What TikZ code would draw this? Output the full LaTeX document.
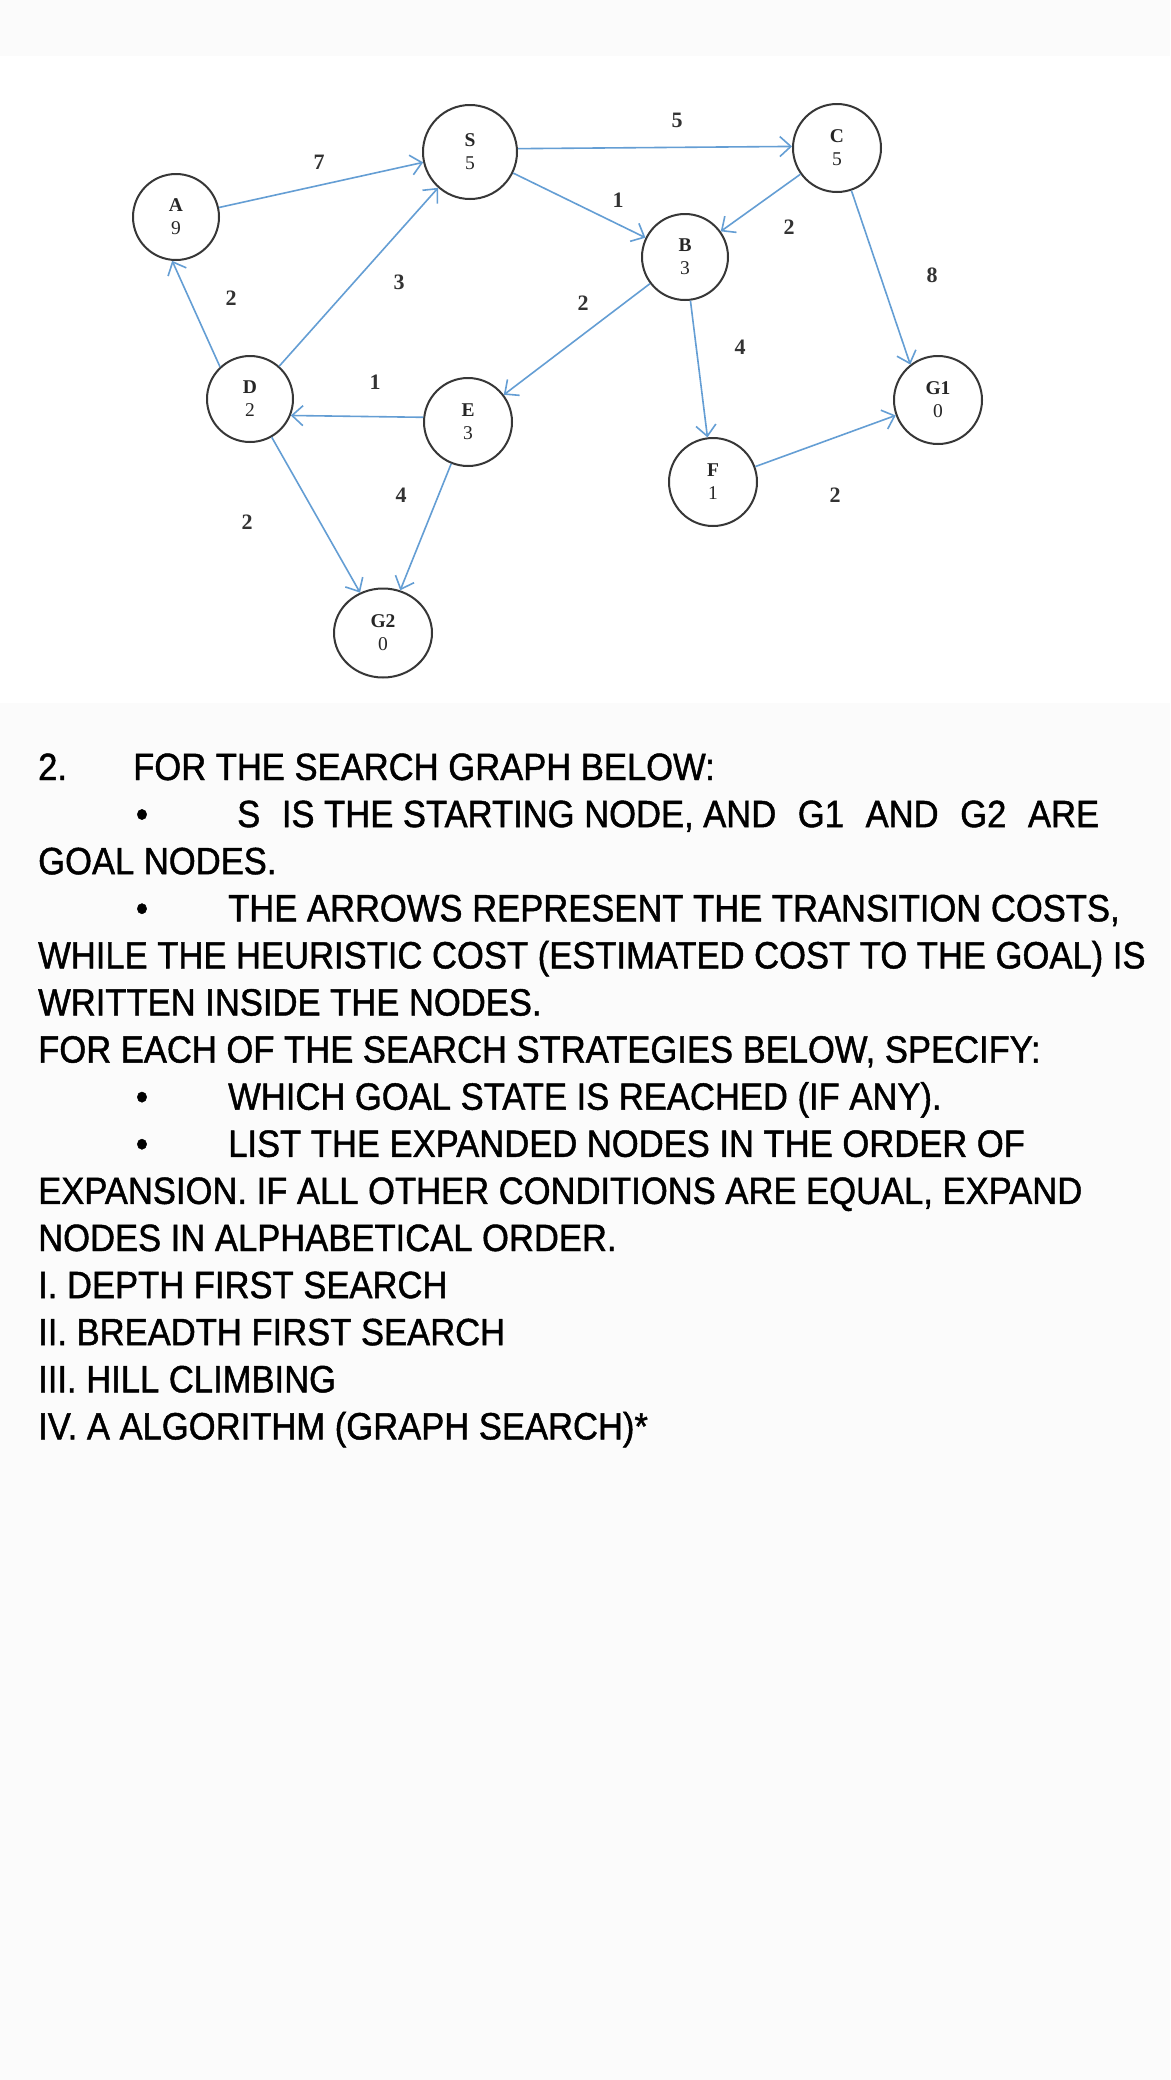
\documentclass[tikz,border=0pt]{standalone}
\usepackage{fontspec}
\setmainfont{Liberation Serif}
\newfontfamily\txtfont[FakeStretch=0.91,FakeBold=1.2]{Liberation Sans}
\usetikzlibrary{arrows.meta,shapes.geometric}
\definecolor{edgeblue}{RGB}{100,158,212}
\definecolor{nodegray}{RGB}{55,55,55}
\definecolor{bggray}{RGB}{251,251,251}
\begin{document}
\begin{tikzpicture}[x=1pt,y=-1pt,
  gnode/.style={circle,draw=nodegray,line width=2pt,inner sep=0pt,align=center,
    font=\fontsize{19.5}{23}\selectfont,text=black!85},
  arr/.style={draw=edgeblue,line width=1.6pt,
    -{Straight Barb[length=11pt,width=20pt,line width=1.6pt]}},
  elabel/.style={font=\fontsize{22}{22}\selectfont\bfseries,text=black!80,inner sep=0pt},
  txtline/.style={anchor=base west,inner sep=0pt,font=\txtfont\fontsize{38}{47}\selectfont},
  bul/.style={anchor=base,inner sep=0pt,font=\txtfont\fontsize{38}{47}\selectfont}
]
% background
\path[fill=bggray] (0,0) rectangle (1170,2080);
\fill[white] (0,56) rectangle (1170,703);
\useasboundingbox (0,0) rectangle (1170,2080);

% graph nodes
\node[gnode,minimum size=86pt] (A) at (176,217) {\textbf{A}\\9};
\node[gnode,minimum size=94pt] (S) at (470,152) {\textbf{S}\\5};
\node[gnode,minimum size=86pt] (D) at (250,399) {\textbf{D}\\2};
\node[gnode,minimum size=88pt] (E) at (468,422) {\textbf{E}\\3};
\node[gnode,ellipse,minimum width=98pt,minimum height=89pt] (G2) at (383,633) {\textbf{G2}\\0};
\node[gnode,minimum size=88pt] (C) at (837,148) {\textbf{C}\\5};
\node[gnode,minimum size=86pt] (B) at (685,257) {\textbf{B}\\3};
\node[gnode,minimum size=88pt] (G1) at (938,400) {\textbf{G1}\\0};
\node[gnode,minimum size=88pt] (F) at (713,482) {\textbf{F}\\1};

% edges
\draw[arr] (A) -- (S);
\draw[arr] (D.133) -- (A.265);
\draw[arr] (D) -- (S);
\draw[arr] (S.4) -- (C.178);
\draw[arr] (S) -- (B);
\draw[arr] (C) -- (B);
\draw[arr] (B) -- (E);
\draw[arr] (E.174) -- (D.-22);
\draw[arr] (B) -- (F);
\draw[arr] (C) -- (G1.128);
\draw[arr] (F) -- (G1);
\draw[arr] (D) -- (G2);
\draw[arr] (E) -- (G2);

% edge labels
\node[elabel] (l1) at (319,162) {7};
\node[elabel] (l2) at (399,282) {3};
\node[elabel] (l3) at (231,298) {2};
\node[elabel] (l4) at (375,382) {1};
\node[elabel] (l5) at (677,120) {5};
\node[elabel] (l6) at (618,200) {1};
\node[elabel] (l7) at (789,227) {2};
\node[elabel] (l8) at (583,303) {2};
\node[elabel] (l9) at (932,275) {8};
\node[elabel] (l10) at (740,347) {4};
\node[elabel] (l11) at (835,495) {2};
\node[elabel] (l12) at (401,495) {4};
\node[elabel] (l13) at (247,522) {2};

% text
\node[txtline] (t1a) at (38,780) {2.};
\node[txtline] (t1b) at (133,780) {FOR THE SEARCH GRAPH BELOW:};
\node[bul] (b2) at (142,827.1) {•};
\node[txtline] (t2) at (237,827.1) {S\hspace{12pt} IS THE STARTING NODE, AND\hspace{12pt} G1\hspace{12pt} AND\hspace{12pt} G2\hspace{12pt} ARE};
\node[txtline] (t3) at (38,874.2) {GOAL NODES.};
\node[bul] (b4) at (142,921.3) {•};
\node[txtline] (t4) at (228,921.3) {THE ARROWS REPRESENT THE TRANSITION COSTS,};
\node[txtline] (t5) at (38,968.4) {WHILE THE HEURISTIC COST (ESTIMATED COST TO THE GOAL) IS};
\node[txtline] (t6) at (38,1015.5) {WRITTEN INSIDE THE NODES.};
\node[txtline] (t7) at (38,1062.6) {FOR EACH OF THE SEARCH STRATEGIES BELOW, SPECIFY:};
\node[bul] (b8) at (142,1109.7) {•};
\node[txtline] (t8) at (228,1109.7) {WHICH GOAL STATE IS REACHED (IF ANY).};
\node[bul] (b9) at (142,1156.8) {•};
\node[txtline] (t9) at (228,1156.8) {LIST THE EXPANDED NODES IN THE ORDER OF};
\node[txtline] (t10) at (38,1203.9) {EXPANSION. IF ALL OTHER CONDITIONS ARE EQUAL, EXPAND};
\node[txtline] (t11) at (38,1251) {NODES IN ALPHABETICAL ORDER.};
\node[txtline] (t12) at (38,1298.1) {I. DEPTH FIRST SEARCH};
\node[txtline] (t13) at (38,1345.2) {II. BREADTH FIRST SEARCH};
\node[txtline] (t14) at (38,1392.3) {III. HILL CLIMBING};
\node[txtline] (t15) at (38,1439.4) {IV. A ALGORITHM (GRAPH SEARCH)*};
\end{tikzpicture}
\end{document}
